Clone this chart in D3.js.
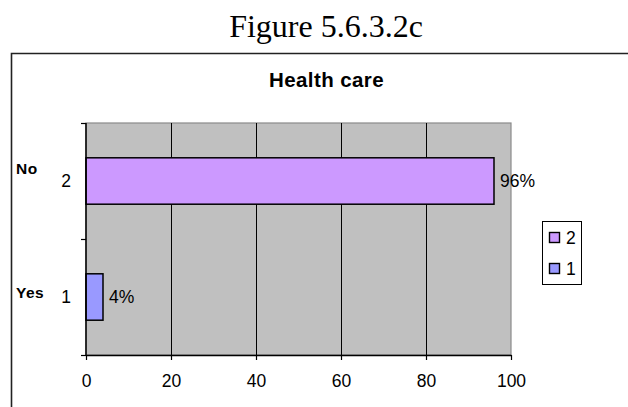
<!DOCTYPE html>
<html>
<head>
<meta charset="utf-8">
<script src="https://cdn.jsdelivr.net/npm/d3@7"></script>
<style>
  html, body { margin: 0; padding: 0; background: #fff; }
  svg { display: block; }
</style>
</head>
<body>
<svg id="chart" width="628" height="407"></svg>
<script>
// Survey answers for the health care question
const categories = ["1", "2"];          // category ids, bottom to top
const categoryNames = ["Yes", "No"];    // answer text beside each id
const values = [4, 96];                 // percent of respondents
const valueLabels = ["4%", "96%"];
const xTicks = [0, 20, 40, 60, 80, 100];
const barColors = ["#9999FF", "#CC99FF"];
const legendOrder = ["2", "1"];

const sans = "'Liberation Sans', Arial, sans-serif";
const svg = d3.select("#chart");

// Caption above the chart frame
svg.append("text")
  .attr("x", 326).attr("y", 37)
  .attr("text-anchor", "middle")
  .attr("font-family", "'Liberation Serif', 'Times New Roman', serif")
  .attr("font-size", 32)
  .attr("fill", "#000")
  .text("Figure 5.6.3.2c");

// Chart frame (runs off the right and bottom edges of the page)
svg.append("path")
  .attr("d", "M11.5,407 V53.5 H628")
  .attr("fill", "none")
  .attr("stroke", "#222")
  .attr("stroke-width", 1.6);

svg.append("text")
  .attr("x", 326.5).attr("y", 87)
  .attr("text-anchor", "middle")
  .attr("font-family", sans)
  .attr("font-weight", "bold")
  .attr("font-size", 20.5)
  .attr("letter-spacing", 0.4)
  .text("Health care");

const plot = { left: 86, right: 511, top: 123, bottom: 355 };

const x = d3.scaleLinear().domain([0, 100]).range([plot.left, plot.right]);
const y = d3.scaleBand()
  .domain(categories.slice().reverse())
  .range([plot.top, plot.bottom])
  .paddingInner(0.6).paddingOuter(0.3);

// Plot area
svg.append("rect")
  .attr("x", plot.left).attr("y", plot.top)
  .attr("width", plot.right - plot.left).attr("height", plot.bottom - plot.top)
  .attr("fill", "#C0C0C0")
  .attr("stroke", "#8a8a8a").attr("stroke-width", 1.2);

// Vertical gridlines
svg.append("g")
  .selectAll("line")
  .data(xTicks.slice(1, -1))
  .join("line")
  .attr("x1", d => Math.round(x(d)) + 0.5).attr("x2", d => Math.round(x(d)) + 0.5)
  .attr("y1", plot.top).attr("y2", plot.bottom)
  .attr("stroke", "#000").attr("stroke-width", 1);

// Bars
svg.append("g")
  .selectAll("rect")
  .data(categories)
  .join("rect")
  .attr("x", x(0))
  .attr("y", d => y(d))
  .attr("width", (d, i) => x(values[i]) - x(0))
  .attr("height", y.bandwidth())
  .attr("fill", (d, i) => barColors[i])
  .attr("stroke", "#000").attr("stroke-width", 1.5);

// Value labels at bar ends
svg.append("g")
  .selectAll("text")
  .data(categories)
  .join("text")
  .attr("x", (d, i) => x(values[i]) + 6)
  .attr("y", d => y(d) + y.bandwidth() / 2 + 6)
  .attr("font-family", sans)
  .attr("font-size", 17.5)
  .text((d, i) => valueLabels[i]);

// X axis
const xAxis = d3.axisBottom(x).tickValues(xTicks).tickSize(5).tickSizeOuter(0);
const gx = svg.append("g")
  .attr("transform", `translate(0,${plot.bottom})`)
  .call(xAxis);
gx.select(".domain").attr("stroke", "#000").attr("stroke-width", 1.5);
gx.selectAll(".tick line").attr("stroke", "#000").attr("stroke-width", 1.2);
gx.selectAll(".tick text")
  .attr("y", 32).attr("dy", null)
  .attr("font-family", sans)
  .attr("font-size", 17.5)
  .attr("fill", "#000");

// Y axis: category boundaries and ids
const yLine = svg.append("g");
yLine.append("line")
  .attr("x1", plot.left).attr("x2", plot.left)
  .attr("y1", plot.top).attr("y2", plot.bottom)
  .attr("stroke", "#000").attr("stroke-width", 1.5);
const bounds = [plot.top, (plot.top + plot.bottom) / 2, plot.bottom];
yLine.selectAll("line.tk")
  .data(bounds)
  .join("line").attr("class", "tk")
  .attr("x1", plot.left - 5).attr("x2", plot.left)
  .attr("y1", d => Math.round(d) + 0.5).attr("y2", d => Math.round(d) + 0.5)
  .attr("stroke", "#000").attr("stroke-width", 1.2);

svg.append("g")
  .selectAll("text")
  .data(categories)
  .join("text")
  .attr("x", 71)
  .attr("y", d => y(d) + y.bandwidth() / 2 + 6)
  .attr("text-anchor", "end")
  .attr("font-family", sans)
  .attr("font-size", 17.5)
  .text(d => d);

const nameOffsets = [0, -8];
svg.append("g")
  .selectAll("text")
  .data(categories)
  .join("text")
  .attr("x", 16)
  .attr("y", (d, i) => y(d) + y.bandwidth() / 2 + 0.5 + nameOffsets[i])
  .attr("font-family", sans)
  .attr("font-weight", "bold")
  .attr("font-size", 15.5)
  .attr("letter-spacing", 0.5)
  .text((d, i) => categoryNames[i]);

// Legend
const legend = svg.append("g").attr("transform", "translate(542,221)");
legend.append("rect")
  .attr("x", 0.5).attr("y", 0.5).attr("width", 39).attr("height", 63)
  .attr("fill", "#fff").attr("stroke", "#000");
const item = legend.selectAll("g.item")
  .data(legendOrder)
  .join("g").attr("class", "item")
  .attr("transform", (d, i) => `translate(0,${17 + i * 31})`);
item.append("rect")
  .attr("x", 7.5).attr("y", -5.5).attr("width", 10).attr("height", 10)
  .attr("fill", d => barColors[categories.indexOf(d)])
  .attr("stroke", "#000").attr("stroke-width", 1.4);
item.append("text")
  .attr("x", 24).attr("y", 5.5)
  .attr("font-family", sans)
  .attr("font-size", 17.5)
  .text(d => d);
</script>
</body>
</html>
